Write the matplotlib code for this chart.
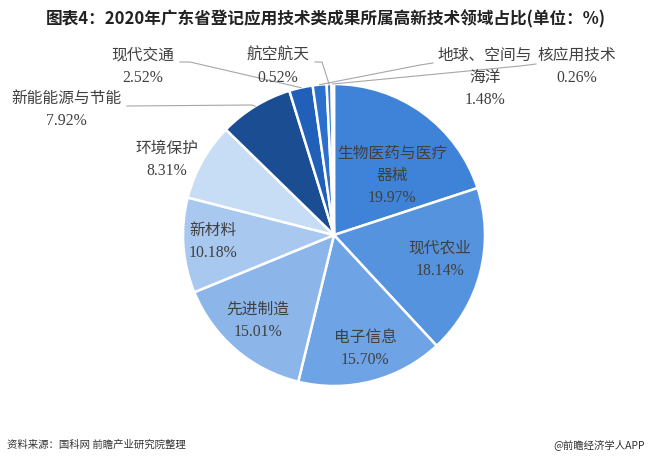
import numpy as np
import matplotlib.pyplot as plt

plt.rcParams['font.family'] = ['Liberation Serif', 'Noto Sans CJK SC', 'DejaVu Sans']

# data, clockwise from 12 o'clock
labels = ['生物医药与医疗\n器械', '现代农业', '电子信息', '先进制造', '新材料', '环境保护',
          '新能能源与节能', '现代交通', '地球、空间与\n海洋', '航空航天', '核应用技术']
values = [19.97, 18.14, 15.70, 15.01, 10.18, 8.31, 7.92, 2.52, 1.48, 0.52, 0.26]
colors = ['#3f83d8', '#5593df', '#6ea3e5', '#8cb6ea', '#a9c8f0', '#c7dcf5',
          '#1b4d92', '#2160b8', '#2b6fcf', '#3479d4', '#3f83d8']

# label positions in pixels (x, y from top)
inside_pos = {0: (392, 176), 1: (440, 260), 2: (365, 349), 3: (258, 321),
              4: (213, 242), 5: (167, 160)}
outside_pos = {6: (66, 110), 7: (143, 67), 8: (485, 78), 9: (278, 67), 10: (577, 67)}
# leader line start points (pixels)
leader_start = {6: [(127, 106), (252, 105)], 7: [(180, 62), (190, 62)],
                8: [(433, 63), (420, 65)], 9: [(315, 62), (322, 62)],
                10: [(536, 64), (520, 66)]}

W, H = 652, 470
fig = plt.figure(figsize=(6.52, 4.70), dpi=100)
ax = fig.add_axes([0, 0, 1, 1])

cx, cy, r = 334, H - 235, 151
wedges, _ = ax.pie(values, colors=colors, startangle=90, counterclock=False,
                   center=(cx, cy), radius=r,
                   wedgeprops=dict(edgecolor='white', linewidth=1.8))

ax.set_xlim(0, W)
ax.set_ylim(0, H)
ax.set_aspect('equal')
ax.axis('off')

txt_color = '#404040'
fs = 11.3
for i, v in enumerate(values):
    s = labels[i] + '\n' + '%.2f%%' % v
    if i in inside_pos:
        x, y = inside_pos[i]
    else:
        x, y = outside_pos[i]
        w = wedges[i]
        ang = np.deg2rad((w.theta1 + w.theta2) / 2)
        ex = cx + r * np.cos(ang)
        ey = cy + r * np.sin(ang)
        pts = leader_start[i]
        xs = [p[0] for p in pts] + [ex]
        ys = [H - p[1] for p in pts] + [ey]
        ax.plot(xs, ys, color='#a6a6a6', lw=0.8)
    ax.text(x, H - y, s, ha='center', va='center', fontsize=fs,
            color=txt_color, linespacing=1.5)

ax.text(W / 2, H - 19, '图表4：2020年广东省登记应用技术类成果所属高新技术领域占比(单位：%)',
        ha='center', va='center', fontsize=12, fontweight='bold', color='#222222',
        family=['Liberation Sans Narrow', 'Noto Sans CJK SC'])
ax.text(7, H - 445, '资料来源：国科网 前瞻产业研究院整理', ha='left', va='center',
        fontsize=7.5, color='#333333', family=['Noto Sans CJK SC', 'DejaVu Sans'])
ax.text(645, H - 445, '@前瞻经济学人APP', ha='right', va='center',
        fontsize=7.5, color='#333333', family=['Noto Sans CJK SC', 'DejaVu Sans'])

fig.savefig('out.png', dpi=100)
